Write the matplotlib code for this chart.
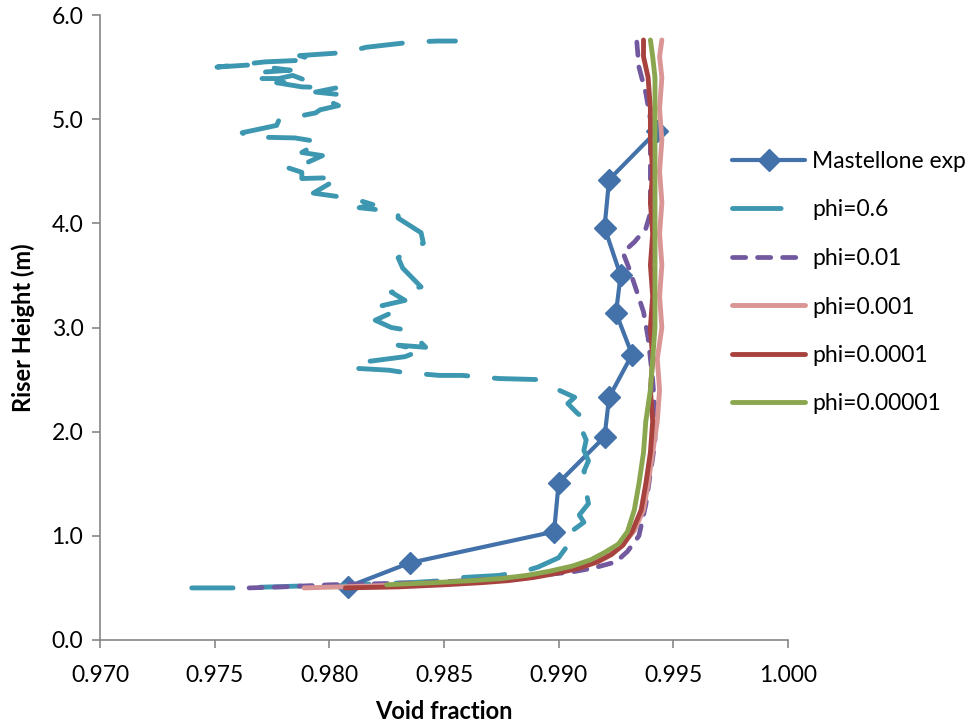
import matplotlib.pyplot as plt
from matplotlib.ticker import FormatStrFormatter, MultipleLocator

plt.rcParams['font.family'] = ['Lato', 'DejaVu Sans']

# measured void fraction (Mastellone experiment)
exp_x = [0.9808, 0.9835, 0.9898, 0.9900, 0.9920, 0.9922, 0.9932, 0.9925, 0.9927, 0.9920, 0.9922, 0.9943]
exp_y = [0.51, 0.74, 1.04, 1.51, 1.95, 2.33, 2.74, 3.14, 3.50, 3.96, 4.42, 4.89]

# phi = 0.6
p6_x = [0.9740, 0.9760, 0.9775, 0.9790, 0.9805, 0.9820, 0.9835, 0.9850, 0.9858, 0.9874,
        0.9885, 0.9891, 0.9900, 0.9903, 0.9908, 0.9906, 0.9911, 0.9909, 0.9913, 0.9912,
        0.9913, 0.9911, 0.9913, 0.9911, 0.9912, 0.9910, 0.9913, 0.9908, 0.9904, 0.9907,
        0.9900, 0.9891, 0.9874, 0.9858, 0.9848, 0.9832, 0.9826, 0.9810, 0.9812, 0.9833,
        0.9840, 0.9830, 0.9842, 0.9835, 0.9827, 0.9820, 0.9830, 0.9823, 0.9833, 0.9827,
        0.9840, 0.9832, 0.9830, 0.9841, 0.9840, 0.9830, 0.9830, 0.9813, 0.9819, 0.9810,
        0.9806, 0.9793, 0.9800, 0.9804, 0.9788, 0.9788, 0.9781, 0.9790, 0.9797, 0.9788,
        0.9796, 0.9785, 0.9764, 0.9762, 0.9777, 0.9778, 0.9794, 0.9796, 0.9804, 0.9801,
        0.9807, 0.9794, 0.9803, 0.9788, 0.9777, 0.9788, 0.9790, 0.9784, 0.9778, 0.9766,
        0.9770, 0.9783, 0.9765, 0.9751, 0.9772, 0.9793, 0.9787, 0.9807, 0.9816, 0.9836,
        0.9847, 0.9855]
p6_y = [0.50, 0.50, 0.51, 0.52, 0.52, 0.54, 0.55, 0.57, 0.60, 0.62,
        0.66, 0.70, 0.79, 0.88, 0.98, 1.05, 1.13, 1.20, 1.31, 1.42,
        1.51, 1.62, 1.72, 1.82, 1.92, 2.02, 2.09, 2.18, 2.27, 2.33,
        2.40, 2.50, 2.51, 2.54, 2.54, 2.57, 2.59, 2.61, 2.66, 2.72,
        2.78, 2.83, 2.81, 2.97, 3.00, 3.07, 3.17, 3.21, 3.26, 3.34,
        3.39, 3.57, 3.67, 3.81, 3.91, 4.05, 4.11, 4.15, 4.18, 4.24,
        4.25, 4.29, 4.38, 4.44, 4.43, 4.49, 4.54, 4.58, 4.65, 4.68,
        4.78, 4.82, 4.83, 4.87, 4.94, 4.99, 5.06, 5.09, 5.13, 5.16,
        5.23, 5.26, 5.30, 5.31, 5.35, 5.36, 5.37, 5.42, 5.39, 5.39,
        5.45, 5.47, 5.52, 5.50, 5.55, 5.57, 5.61, 5.64, 5.69, 5.74,
        5.75, 5.75]

# phi = 0.01
p01_x = [0.9765, 0.9780, 0.9800, 0.9820, 0.9840, 0.9860, 0.9875, 0.9890, 0.9905, 0.9915,
         0.9925, 0.9930, 0.9935, 0.9938, 0.9940, 0.9942, 0.9942, 0.9941, 0.9939, 0.9937,
         0.9934, 0.9931, 0.9928, 0.9933, 0.9938, 0.9940, 0.9940, 0.9940, 0.9938, 0.9935,
         0.9934]
p01_y = [0.50, 0.51, 0.53, 0.54, 0.55, 0.57, 0.59, 0.62, 0.65, 0.69,
         0.75, 0.85, 1.00, 1.30, 1.60, 1.90, 2.20, 2.50, 2.90, 3.15,
         3.35, 3.55, 3.72, 3.82, 3.95, 4.10, 4.50, 5.00, 5.25, 5.50,
         5.76]

# phi = 0.001
p001_x = [0.9789, 0.9820, 0.9845, 0.9862, 0.9875, 0.9886, 0.9896, 0.9907, 0.9916, 0.9922,
          0.9928, 0.9933, 0.9937, 0.9939, 0.9941, 0.9943, 0.9944, 0.9943, 0.9945, 0.9944,
          0.9945, 0.9944, 0.9945, 0.9944, 0.9945, 0.9944, 0.9945, 0.9944, 0.9945]
p001_y = [0.50, 0.52, 0.54, 0.56, 0.58, 0.61, 0.65, 0.70, 0.76, 0.83,
          0.92, 1.05, 1.25, 1.50, 1.80, 2.10, 2.40, 2.70, 3.00, 3.30,
          3.60, 3.90, 4.20, 4.50, 4.80, 5.10, 5.40, 5.60, 5.76]

# phi = 0.0001
p0001_x = [0.9807, 0.9830, 0.9850, 0.9866, 0.9878, 0.9889, 0.9899, 0.9909, 0.9917, 0.9923,
           0.9928, 0.9932, 0.9936, 0.9938, 0.9940, 0.9941, 0.9940, 0.9941, 0.9940, 0.9941,
           0.9940, 0.9941, 0.9940, 0.9941, 0.9940, 0.9940, 0.9939, 0.9937, 0.9937]
p0001_y = [0.50, 0.51, 0.53, 0.55, 0.57, 0.60, 0.64, 0.69, 0.75, 0.82,
           0.91, 1.04, 1.25, 1.50, 1.80, 2.10, 2.40, 2.70, 3.00, 3.30,
           3.60, 3.90, 4.20, 4.50, 4.80, 5.10, 5.40, 5.60, 5.76]

# phi = 0.00001
p00001_x = [0.9825, 0.9845, 0.9862, 0.9875, 0.9886, 0.9896, 0.9906, 0.9914, 0.9920, 0.9926,
            0.9930, 0.9933, 0.9935, 0.9937, 0.9938, 0.9940, 0.9941, 0.9942, 0.9942, 0.9942,
            0.9942, 0.9942, 0.9942, 0.9942, 0.9942, 0.9942, 0.9941, 0.9940]
p00001_y = [0.53, 0.55, 0.57, 0.59, 0.62, 0.66, 0.71, 0.77, 0.84, 0.92,
            1.04, 1.25, 1.50, 1.80, 2.10, 2.40, 2.70, 3.00, 3.30, 3.60,
            3.90, 4.20, 4.50, 4.80, 5.10, 5.40, 5.60, 5.76]

fig = plt.figure(figsize=(9.76, 7.27), dpi=100)
ax = fig.add_axes([100 / 976, 87 / 727, 688 / 976, 625 / 727])

rnd = dict(solid_capstyle='round', dash_capstyle='round', solid_joinstyle='round', dash_joinstyle='round')

ax.plot(exp_x, exp_y, color='#4371AA', lw=3.0, marker='D', markersize=11,
        label='Mastellone exp', **rnd)
ax.plot(p6_x, p6_y, color='#3D97B0', lw=3.5, dashes=(8.5, 5.5),
        label='phi=0.6', **rnd)
ax.plot(p01_x, p01_y, color='#71589F', lw=3.4, dashes=(2.8, 2.5),
        label='phi=0.01', **rnd)
ax.plot(p001_x, p001_y, color='#D99694', lw=3.5, label='phi=0.001', **rnd)
ax.plot(p0001_x, p0001_y, color='#A8423F', lw=3.5, label='phi=0.0001', **rnd)
ax.plot(p00001_x, p00001_y, color='#8AA64F', lw=3.5, label='phi=0.00001', **rnd)

ax.set_xlim(0.970, 1.000)
ax.set_ylim(0.0, 6.0)
ax.xaxis.set_major_locator(MultipleLocator(0.005))
ax.yaxis.set_major_locator(MultipleLocator(1.0))
ax.xaxis.set_major_formatter(FormatStrFormatter('%.3f'))
ax.yaxis.set_major_formatter(FormatStrFormatter('%.1f'))

for side in ('top', 'right'):
    ax.spines[side].set_visible(False)
for side in ('left', 'bottom'):
    ax.spines[side].set_color('#868686')
    ax.spines[side].set_linewidth(1.2)
ax.tick_params(direction='out', length=6, width=1.2, color='#868686',
               labelsize=16.5, pad=6)
ax.tick_params(axis='x', pad=12)

ax.set_xlabel('Void fraction', fontsize=17, fontweight='bold', labelpad=10)
ax.set_ylabel('Riser Height (m)', fontsize=17, fontweight='bold', labelpad=12)

leg = fig.legend(loc='upper left', bbox_to_anchor=(732 / 976, 1 - 151 / 727),
                 frameon=False, fontsize=16.5, handlelength=3.2, handletextpad=0.3,
                 labelspacing=1.2, borderpad=0, borderaxespad=0)
# single long dash for the phi=0.6 key
leg.get_lines()[1].set_dashes((10, 12))

fig.savefig('out.png', dpi=100)
